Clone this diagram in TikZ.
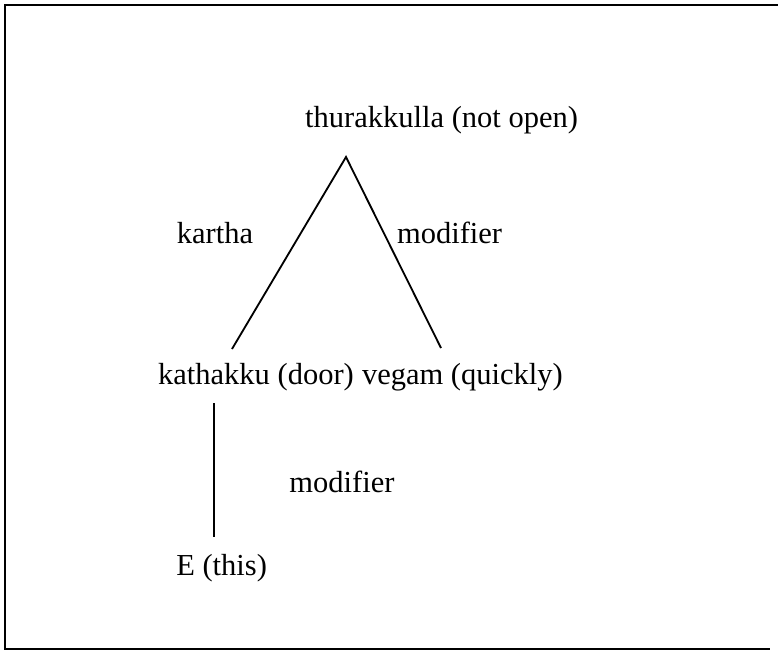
\documentclass[tikz,border=0pt]{standalone}
\usepackage{fontspec}
\setmainfont{Liberation Serif}
\begin{document}
\begin{tikzpicture}[line width=1.3pt,inner sep=0pt,
  font=\fontsize{21.7}{26}\selectfont]
\useasboundingbox (0,0) rectangle (19.45,-16.275);
% frame
\draw (19.45,-0.125) -- (0.125,-0.125) -- (0.125,-16.225) -- (19.25,-16.225);
% words
\node (top) [anchor=base] at (11.04,-3.175) {thurakkulla (not open)};
\node (door) [anchor=base] at (6.4,-9.6) {kathakku (door)};
\node (quick) [anchor=base] at (11.56,-9.6) {vegam (quickly)};
\node (this) [anchor=base] at (5.54,-14.375) {E (this)};
% relations
\node (kartha) [anchor=base] at (5.375,-6.075) {kartha};
\node (modA) [anchor=base] at (11.24,-6.075) {modifier};
\node (modB) [anchor=base] at (8.55,-12.3) {modifier};
% branches
\coordinate (apex) at (8.65,-3.925);
\coordinate (a) at (5.8,-8.725);
\coordinate (b) at (11.025,-8.7);
\coordinate (c) at (5.35,-10.075);
\coordinate (d) at (5.35,-13.425);
\draw (a) -- (apex) -- (b);
\draw (c) -- (d);
\end{tikzpicture}
\end{document}
